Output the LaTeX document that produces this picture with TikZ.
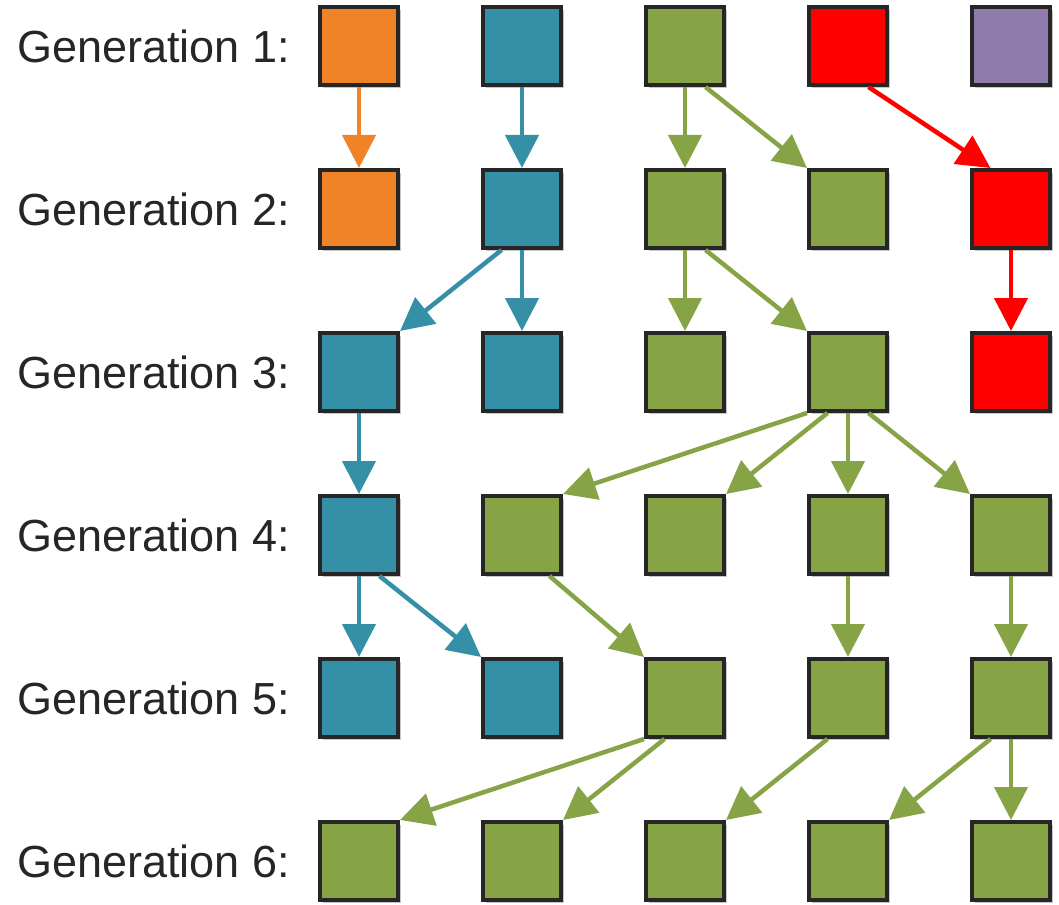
\documentclass[tikz,border=0pt]{standalone}
\usepackage{fontspec}
\setmainfont{Liberation Sans}
\usetikzlibrary{arrows.meta,positioning,shadows}
\definecolor{genorange}{RGB}{240,131,40}
\definecolor{genblue}{RGB}{53,143,166}
\definecolor{gengreen}{RGB}{134,164,70}
\definecolor{genred}{RGB}{255,0,0}
\definecolor{genpurple}{RGB}{143,123,172}
\begin{document}
\begin{tikzpicture}[-,node distance=3.26cm,
    box/.style={rectangle,draw=black!85,line width=0.08cm,minimum size=1.56cm,inner sep=0pt,
      general shadow={fill=black!22,shadow xshift=0.06cm,shadow yshift=-0.06cm}},
    gen/.style={font=\fontsize{25.6}{30}\selectfont,text=black!85,inner sep=0pt},
    link/.style={-{Triangle[length=0.66cm,width=0.66cm]},line width=0.09cm}]

  \useasboundingbox (0,0) rectangle (21.18,-18.1);

  % generation 1
  \node[box,fill=genorange] (11) at (7.18,-0.92) {};
  \node[box,fill=genblue] (12) [right of=11] {};
  \node[box,fill=gengreen] (13) [right of=12] {};
  \node[box,fill=genred] (14) [right of=13] {};
  \node[box,fill=genpurple] (15) [right of=14] {};
  % generation 2
  \node[box,fill=genorange] (21) [below of=11] {};
  \node[box,fill=genblue] (22) [right of=21] {};
  \node[box,fill=gengreen] (23) [right of=22] {};
  \node[box,fill=gengreen] (24) [right of=23] {};
  \node[box,fill=genred] (25) [right of=24] {};
  % generation 3
  \node[box,fill=genblue] (31) [below of=21] {};
  \node[box,fill=genblue] (32) [right of=31] {};
  \node[box,fill=gengreen] (33) [right of=32] {};
  \node[box,fill=gengreen] (34) [right of=33] {};
  \node[box,fill=genred] (35) [right of=34] {};
  % generation 4
  \node[box,fill=genblue] (41) [below of=31] {};
  \node[box,fill=gengreen] (42) [right of=41] {};
  \node[box,fill=gengreen] (43) [right of=42] {};
  \node[box,fill=gengreen] (44) [right of=43] {};
  \node[box,fill=gengreen] (45) [right of=44] {};
  % generation 5
  \node[box,fill=genblue] (51) [below of=41] {};
  \node[box,fill=genblue] (52) [right of=51] {};
  \node[box,fill=gengreen] (53) [right of=52] {};
  \node[box,fill=gengreen] (54) [right of=53] {};
  \node[box,fill=gengreen] (55) [right of=54] {};
  % generation 6
  \node[box,fill=gengreen] (61) [below of=51] {};
  \node[box,fill=gengreen] (62) [right of=61] {};
  \node[box,fill=gengreen] (63) [right of=62] {};
  \node[box,fill=gengreen] (64) [right of=63] {};
  \node[box,fill=gengreen] (65) [right of=64] {};

  \node[gen] (g1) [left=0.56cm of 11] {Generation 1:};
  \node[gen] (g2) [left=0.56cm of 21] {Generation 2:};
  \node[gen] (g3) [left=0.56cm of 31] {Generation 3:};
  \node[gen] (g4) [left=0.56cm of 41] {Generation 4:};
  \node[gen] (g5) [left=0.56cm of 51] {Generation 5:};
  \node[gen] (g6) [left=0.56cm of 61] {Generation 6:};

  \path[genorange,every edge/.append style=link]
    (11) edge (21);
  \path[genblue,every edge/.append style=link]
    (12) edge (22)
    (22) edge (32)
    ([xshift=-0.41cm]22.south) edge (31.north east)
    (31) edge (41)
    (41) edge (51)
    ([xshift=0.41cm]41.south) edge (52.north west);
  \path[gengreen,every edge/.append style=link]
    (13) edge (23)
    ([xshift=0.41cm]13.south) edge (24.north west)
    (23) edge (33)
    ([xshift=0.41cm]23.south) edge (34.north west)
    (34.south west) edge (42.north east)
    ([xshift=-0.41cm]34.south) edge (43.north east)
    (34) edge (44)
    ([xshift=0.41cm]34.south) edge (45.north west)
    ([xshift=0.55cm]42.south) edge (53.north west)
    (44) edge (54)
    (45) edge (55)
    (53.south west) edge (61.north east)
    ([xshift=-0.41cm]53.south) edge (62.north east)
    ([xshift=-0.41cm]54.south) edge (63.north east)
    ([xshift=-0.41cm]55.south) edge (64.north east)
    (55) edge (65);
  \path[genred,every edge/.append style=link]
    ([xshift=0.41cm]14.south) edge ([xshift=-0.41cm]25.north)
    (25) edge (35);
\end{tikzpicture}
\end{document}
